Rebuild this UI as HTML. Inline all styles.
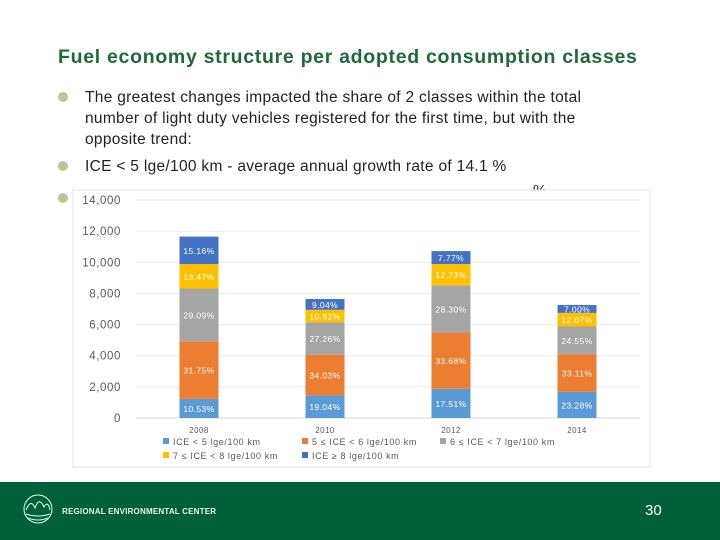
<!DOCTYPE html>
<html><head><meta charset="utf-8"><style>
body{margin:0;width:720px;height:540px;overflow:hidden;background:#fff;font-family:"Liberation Sans","DejaVu Sans",sans-serif;position:relative}
.title{position:absolute;left:58px;top:46px;font-size:19.5px;font-weight:bold;color:#1d6b3a;letter-spacing:0.7px;white-space:nowrap}
.b{position:absolute;left:85px;font-size:15.5px;color:#222;line-height:21px;width:580px;white-space:nowrap;letter-spacing:0.3px}
.dot{position:absolute;left:58px;width:10px;height:10px;border-radius:50%;background:#b9c98a}
#footer{position:absolute;left:0;top:482px;width:720px;height:58px;background:#006039}
</style></head><body>
<div class="title">Fuel economy structure per adopted consumption classes</div>
<div class="dot" style="top:92px"></div>
<div class="b" style="top:87px">The greatest changes impacted the share of 2 classes within the total<br>number of light duty vehicles registered for the first time, but with the<br>opposite trend:</div>
<div class="dot" style="top:161px"></div>
<div class="b" style="top:156px">ICE &lt; 5 lge/100 km - average annual growth rate of 14.1 %</div>
<div class="dot" style="top:193px"></div>
<div class="b" style="top:181px;left:533px">%</div>
<svg id="chart" style="position:absolute;left:0;top:0" width="720" height="540"></svg>
<div id="footer">
<svg style="position:absolute;left:22px;top:10px" width="32" height="36"><circle cx="16" cy="17" r="14" fill="none" stroke="#dfe" stroke-width="1"/><path d="M4 18 Q9 6 13 16 Q17 4 22 15 Q26 8 28 18 M4 22 Q16 26 28 22 M6 26 Q16 30 26 26" fill="none" stroke="#dfe" stroke-width="1"/></svg>
<div style="position:absolute;left:62px;top:25px;font-size:8px;font-weight:bold;color:#e8f0e8;letter-spacing:0.2px">REGIONAL ENVIRONMENTAL CENTER</div>
<div style="position:absolute;left:645px;top:20px;font-size:15px;color:#fff">30</div>
</div>
<script>
const categories=["2008","2010","2012","2014"];
const seriesNames=["ICE < 5 lge/100 km","5 ≤ ICE < 6 lge/100 km","6 ≤ ICE < 7 lge/100 km","7 ≤ ICE < 8 lge/100 km","ICE ≥ 8 lge/100 km"];
const s1=[1227,1455,1877,1690];
const s2=[3699,2600,3610,2404];
const s3=[3389,2083,3034,1782];
const s4=[1569,811,1365,876];
const s5=[1766,691,833,508];
const yTicks=[0,2000,4000,6000,8000,10000,12000,14000];
const series=[s1,s2,s3,s4,s5];
const colors=["#5b9bd5","#ed7d31","#a5a5a5","#ffc000","#4472c4"];
const svg=document.getElementById('chart');
const NS="http://www.w3.org/2000/svg";
function mk(t,a,txt){const e=document.createElementNS(NS,t);for(const k in a)e.setAttribute(k,a[k]);if(txt!=null)e.textContent=txt;svg.appendChild(e);return e;}
const x0=136,x1=640,yb=418,yt=200,ymax=14000;
const y=v=>yb-(v/ymax)*(yb-yt);
const band=(x1-x0)/categories.length;
const xc=i=>x0+band*(i+0.5);
const bw=39;
let r=mk('rect',{x:73,y:190,width:577,height:277,fill:'#fff',stroke:'#e4e4e4'});


yTicks.forEach(t=>{
 let g=mk('line',{x1:x0,x2:x1,y1:y(t),y2:y(t),stroke:t===0?'#d9d9d9':'#ececec'});
 
 
 let l=mk('text',{x:121,y:y(t)+4,'text-anchor':'end','font-size':'11.5','letter-spacing':'0.6',fill:'#595959'},t.toLocaleString('en-US'));
 
 
});
categories.forEach((c,i)=>{
 const tot=series.reduce((a,s)=>a+s[i],0);
 let acc=0;
 series.forEach((s,k)=>{
  const v=s[i];
  let b=mk('rect',{x:xc(i)-bw/2,y:y(acc+v),width:bw,height:y(acc)-y(acc+v),fill:colors[k]});
  
  
  let t=mk('text',{x:xc(i),y:(y(acc)+y(acc+v))/2+3.5,'text-anchor':'middle','font-size':'8.5','letter-spacing':'0.4',fill:'#fff'},(v/tot*100).toFixed(2)+'%');
  
  
  acc+=v;
 });
 let xl=mk('text',{x:xc(i),y:433,'text-anchor':'middle','font-size':'8','letter-spacing':'0.4',fill:'#595959'},c);
 
 
});
const legPos=[[163,444],[302,444],[440,444],[163,458],[302,458]];
seriesNames.forEach((n,k)=>{
 let sw=mk('rect',{x:legPos[k][0],y:legPos[k][1]-6,width:6,height:6,fill:colors[k]});
 
 
 let t=mk('text',{x:legPos[k][0]+10,y:legPos[k][1]+1,'font-size':'9','letter-spacing':'0.6',fill:'#595959'},n);
 
 
});
</script>
</body></html>
